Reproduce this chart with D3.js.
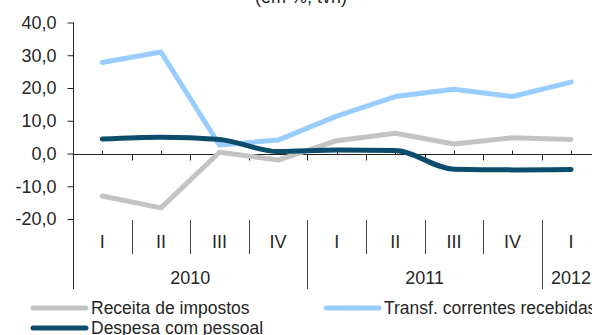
<!DOCTYPE html>
<html>
<head>
<meta charset="utf-8">
<script src="https://cdn.jsdelivr.net/npm/d3@7"></script>
<style>
  html, body { margin: 0; padding: 0; background: #fff; }
  svg { display: block; font-family: Arial, "Liberation Sans", sans-serif; }
</style>
</head>
<body>
<svg id="chart" width="592" height="335"></svg>
<script>
// Quarterly categories and the year groups they belong to
const quarters = ["I", "II", "III", "IV", "I", "II", "III", "IV", "I"];
const yearLabels = ["2010", "2011", "2012"];
const yearSpans = [4, 4, 1];

// Year-on-year rates, %
const receitaImpostos = [-13.0, -16.6, 0.4, -2.0, 3.9, 6.2, 2.9, 4.8, 4.3];
const transfCorrentes = [27.8, 31.0, 2.6, 4.1, 11.4, 17.4, 19.6, 17.4, 21.8];
const despesaPessoal = [4.4, 5.0, 4.3, 0.6, 1.1, 0.9, -4.8, -5.0, -4.9];

const yTicks = [-20, -10, 0, 10, 20, 30, 40];

const svg = d3.select("#chart");
const textColor = "#262626";
const axisColor = "#222";

const idx = quarters.map((_, i) => i);
const x = d3.scaleBand().domain(idx).range([73, 600.4]).paddingInner(0).paddingOuter(0);
const y = d3.scaleLinear().domain([-20, 40]).range([219, 22.5]);
const cx = i => x(i) + x.bandwidth() / 2;

// Title (mostly above the visible area)
svg.append("text")
  .attr("x", 301).attr("y", 3)
  .attr("text-anchor", "middle")
  .attr("font-size", 18).attr("fill", textColor)
  .text("(em %, tvh)");

// Y axis
const yAxis = d3.axisLeft(y)
  .tickValues(yTicks)
  .tickSize(6)
  .tickPadding(11)
  .tickFormat(d => d3.format(".1f")(d).replace(".", ",").replace("−", "-"));
const gy = svg.append("g").attr("transform", "translate(73.5,0)").call(yAxis);
gy.select(".domain").remove();
gy.selectAll(".tick line").attr("stroke", axisColor);
gy.selectAll(".tick text").attr("font-size", 18).attr("fill", textColor)
  .attr("font-family", "Arial, 'Liberation Sans', sans-serif");
svg.append("line")
  .attr("x1", 73.5).attr("x2", 73.5).attr("y1", y(40)).attr("y2", 289)
  .attr("stroke", axisColor);

// Zero line with tick marks: boundaries below, category centres above
const y0 = Math.round(y(0)) + 0.5;
svg.append("line")
  .attr("x1", 73.5).attr("x2", 600).attr("y1", y0).attr("y2", y0)
  .attr("stroke", axisColor);
const bounds = d3.range(1, quarters.length + 1).map(i => x(0) + i * x.bandwidth());
svg.append("g").selectAll("line").data(bounds).join("line")
  .attr("x1", d => Math.round(d) + 0.5).attr("x2", d => Math.round(d) + 0.5)
  .attr("y1", y0).attr("y2", y0 + 6)
  .attr("stroke", axisColor);
svg.append("g").selectAll("line").data(idx).join("line")
  .attr("x1", i => Math.round(cx(i)) + 0.5).attr("x2", i => Math.round(cx(i)) + 0.5)
  .attr("y1", y0 - 4).attr("y2", y0)
  .attr("stroke", axisColor);

// Category label band: quarters, then years
const qTop = 220, qBottom = 254, yBottom = 289;
let yearStarts = [];
let acc = 0;
yearSpans.forEach(s => { yearStarts.push(acc); acc += s; });
const yearBoundaryIdx = new Set(yearStarts.map((s, k) => s + yearSpans[k]));

svg.append("g").selectAll("line").data(d3.range(1, quarters.length)).join("line")
  .attr("x1", i => Math.round(x(i)) + 0.5).attr("x2", i => Math.round(x(i)) + 0.5)
  .attr("y1", qTop)
  .attr("y2", i => yearBoundaryIdx.has(i) ? yBottom : qBottom)
  .attr("stroke", "#444");

svg.append("g").selectAll("text").data(idx).join("text")
  .attr("x", i => cx(i)).attr("y", 242)
  .attr("dy", "0.35em")
  .attr("text-anchor", "middle")
  .attr("font-size", 18).attr("fill", textColor)
  .text(i => quarters[i]);

svg.append("g").selectAll("text").data(yearLabels).join("text")
  .attr("x", (d, k) => (x(yearStarts[k]) + x(yearStarts[k]) + yearSpans[k] * x.bandwidth()) / 2)
  .attr("y", 277.5)
  .attr("dy", "0.35em")
  .attr("text-anchor", "middle")
  .attr("font-size", 18).attr("fill", textColor)
  .text(d => d);

// Series lines
const series = [
  { name: "Receita de impostos", values: receitaImpostos, color: "#c3c3c3", curve: d3.curveLinear },
  { name: "Transf. correntes recebidas", values: transfCorrentes, color: "#99ccff", curve: d3.curveLinear },
  { name: "Despesa com pessoal", values: despesaPessoal, color: "#0b4d6b", curve: d3.curveMonotoneX }
];

series.forEach(s => {
  const line = d3.line().x((d, i) => cx(i)).y(d => y(d)).curve(s.curve);
  svg.append("path")
    .datum(s.values)
    .attr("d", line)
    .attr("fill", "none")
    .attr("stroke", s.color)
    .attr("stroke-width", 5)
    .attr("stroke-linejoin", "round")
    .attr("stroke-linecap", "round");
});

// Legend
const legendPos = [
  { x: 33, y: 308 },
  { x: 326, y: 308 },
  { x: 33, y: 328 }
];
series.forEach((s, k) => {
  const p = legendPos[k];
  svg.append("line")
    .attr("x1", p.x).attr("x2", p.x + 53)
    .attr("y1", p.y).attr("y2", p.y)
    .attr("stroke", s.color).attr("stroke-width", 5)
    .attr("stroke-linecap", "round");
  svg.append("text")
    .attr("x", p.x + 58).attr("y", p.y)
    .attr("dy", "0.35em")
    .attr("font-size", 17.5).attr("fill", textColor)
    .text(s.name);
});
</script>
</body>
</html>
